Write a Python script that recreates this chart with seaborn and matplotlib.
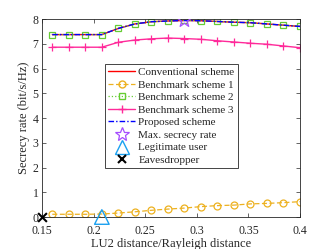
import matplotlib
matplotlib.use("Agg")
import matplotlib.pyplot as plt
import seaborn as sns
import pandas as pd
from matplotlib.lines import Line2D

sns.set_style("ticks")
plt.rcParams['font.family'] = ['Liberation Serif', 'DejaVu Serif']
plt.rcParams['mathtext.fontset'] = 'stix'

distance = [0.160, 0.176, 0.192, 0.208, 0.224, 0.240, 0.256, 0.272,
            0.288, 0.304, 0.320, 0.336, 0.352, 0.368, 0.384, 0.400]
conventional = [7.37, 7.37, 7.37, 7.37, 7.62, 7.80, 7.89, 7.92,
                7.94, 7.93, 7.90, 7.87, 7.85, 7.80, 7.75, 7.70]
benchmark1 = [0.11, 0.11, 0.11, 0.12, 0.16, 0.21, 0.27, 0.32,
              0.36, 0.42, 0.46, 0.48, 0.53, 0.55, 0.58, 0.62]
benchmark2 = [7.37, 7.37, 7.37, 7.37, 7.62, 7.80, 7.89, 7.92,
              7.94, 7.93, 7.90, 7.87, 7.85, 7.80, 7.75, 7.70]
benchmark3 = [6.86, 6.86, 6.86, 6.86, 7.06, 7.15, 7.20, 7.23,
              7.21, 7.18, 7.12, 7.07, 7.02, 6.98, 6.91, 6.84]
proposed = [7.37, 7.37, 7.37, 7.37, 7.62, 7.80, 7.89, 7.92,
            7.94, 7.93, 7.90, 7.87, 7.85, 7.80, 7.75, 7.70]
max_rate_x = [0.288]
max_rate_y = [7.94]
legit_x = [0.208]
legit_y = [0.0]
eve_x = [0.15]
eve_y = [0.0]

xticks = [0.15, 0.2, 0.25, 0.3, 0.35, 0.4]
xticklabels = ['0.15', '0.2', '0.25', '0.3', '0.35', '0.4']
yticks = [0, 1, 2, 3, 4, 5, 6, 7, 8]

c_red = '#FF0000'
c_orange = '#EDB120'
c_green = '#66CC33'
c_pink = '#FF2A9A'
c_blue = '#0000FF'
c_star = '#A64DFF'
c_tri = '#1AA0F0'

df = pd.DataFrame({'x': distance, 'conv': conventional, 'b1': benchmark1,
                   'b2': benchmark2, 'b3': benchmark3, 'prop': proposed})

fig = plt.figure(figsize=(3.32, 2.49), dpi=100)
ax = fig.add_axes([42/332, 1-217/249, 258/332, 198/249])

sns.lineplot(data=df, x='x', y='conv', ax=ax, color=c_red, lw=1.0)
sns.lineplot(data=df, x='x', y='b1', ax=ax, color=c_orange, lw=0.9,
             marker='o', markersize=5, markerfacecolor='none',
             markeredgecolor=c_orange, markeredgewidth=0.9, dashes=(4, 2))
sns.lineplot(data=df, x='x', y='b2', ax=ax, color=c_green, lw=0.9,
             marker='s', markersize=5, markerfacecolor='none',
             markeredgecolor=c_green, markeredgewidth=0.9)
ax.lines[-1].set_linestyle(':')
sns.lineplot(data=df, x='x', y='b3', ax=ax, color=c_pink, lw=1.0,
             marker='+', markersize=6, markeredgewidth=0.9,
             markeredgecolor=c_pink)
sns.lineplot(data=df, x='x', y='prop', ax=ax, color=c_blue, lw=1.0)
ax.lines[-1].set_linestyle('-.')
ax.lines[-1].set_dashes((4, 1.5, 1, 1.5))

sns.scatterplot(x=max_rate_x, y=max_rate_y, ax=ax, marker='*', s=110,
                facecolor='none', edgecolor=c_star, linewidth=0.9, zorder=5)
sns.scatterplot(x=legit_x, y=legit_y, ax=ax, marker='^', s=110,
                facecolor='none', edgecolor=c_tri, linewidth=1.0, zorder=5,
                clip_on=False)
sns.scatterplot(x=eve_x, y=eve_y, ax=ax, marker='x', s=40,
                color='black', linewidth=1.5, zorder=6, clip_on=False)

ax.set_xlim(0.15, 0.4)
ax.set_ylim(0, 8)
ax.set_xticks(xticks)
ax.set_xticklabels(xticklabels)
ax.set_yticks(yticks)
ax.set_xlabel('LU2 distance/Rayleigh distance', fontsize=9, labelpad=1)
ax.set_ylabel('Secrecy rate (bit/s/Hz)', fontsize=9, labelpad=2)
ax.tick_params(direction='in', length=3, width=0.5, colors='#262626',
               labelsize=8.5, top=True, right=True, pad=2)
ax.tick_params(axis='x', pad=5.5)
ax.tick_params(axis='y', pad=2.5)
for s in ax.spines.values():
    s.set_linewidth(0.6)
    s.set_color('#262626')

handles = [
    Line2D([], [], color=c_red, lw=1.0),
    Line2D([], [], color=c_orange, lw=0.9, ls=(0, (4, 2)), marker='o',
           markersize=5, markerfacecolor='none'),
    Line2D([], [], color=c_green, lw=0.9, ls=':', marker='s', markersize=4,
           markerfacecolor='none'),
    Line2D([], [], color=c_pink, lw=1.0, marker='+', markersize=6),
    Line2D([], [], color=c_blue, lw=1.0, ls=(0, (4, 1.5, 1, 1.5))),
    Line2D([], [], ls='none', marker='*', markersize=10, markerfacecolor='none',
           markeredgecolor=c_star, markeredgewidth=0.9),
    Line2D([], [], ls='none', marker='^', markersize=10, markerfacecolor='none',
           markeredgecolor=c_tri, markeredgewidth=1.0),
    Line2D([], [], ls='none', marker='x', markersize=6, color='black',
           markeredgewidth=1.5),
]
labels = ['Conventional scheme', 'Benchmark scheme 1', 'Benchmark scheme 2',
          'Benchmark scheme 3', 'Proposed scheme', 'Max. secrecy rate',
          'Legitimate user', 'Eavesdropper']
leg = ax.legend(handles, labels, loc='upper left',
                bbox_to_anchor=((105-42)/258, (217-64)/198),
                fontsize=8, frameon=True, fancybox=False, framealpha=1,
                edgecolor='#262626', handlelength=2.4, handletextpad=0.3,
                labelspacing=0.25, borderpad=0.3, borderaxespad=0)
leg.get_frame().set_linewidth(0.6)

fig.savefig('out.png', dpi=100)
